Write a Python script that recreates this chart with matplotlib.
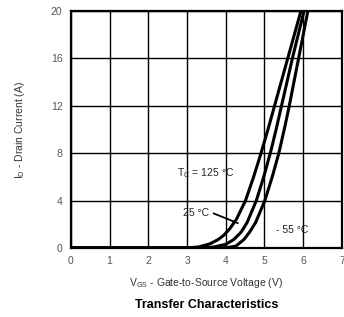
import matplotlib
matplotlib.use("Agg")
import matplotlib.pyplot as plt

plt.rcParams['font.family'] = ['Liberation Sans', 'DejaVu Sans']

# gate-source voltage (V) vs drain current (A)
vgs_125 = [0, 3.0, 3.3, 3.59, 3.8, 3.94, 4.1, 4.28, 4.51, 4.72, 4.91, 5.09, 5.26, 5.43, 5.6, 5.77, 5.94]
id_125 = [0, 0, 0.08, 0.34, 0.7, 1.04, 1.6, 2.45, 4, 6, 8, 10, 12, 14, 16, 18, 20]
vgs_25 = [0, 3.4, 3.7, 4.0, 4.21, 4.4, 4.55, 4.79, 4.98, 5.15, 5.3, 5.44, 5.58, 5.72, 5.87, 6.02]
id_25 = [0, 0, 0.08, 0.3, 0.71, 1.35, 2.14, 4, 6, 8, 10, 12, 14, 16, 18, 20]
vgs_m55 = [0, 3.8, 4.05, 4.26, 4.47, 4.62, 4.77, 5.01, 5.2, 5.37, 5.51, 5.64, 5.76, 5.88, 6.0, 6.12]
id_m55 = [0, 0, 0.03, 0.15, 0.71, 1.35, 2.14, 4, 6, 8, 10, 12, 14, 16, 18, 20]

xticks = [0, 1, 2, 3, 4, 5, 6, 7]
yticks = [0, 4, 8, 12, 16, 20]

fig = plt.figure(figsize=(3.44, 3.17), dpi=100)
ax = fig.add_axes([0.206, 0.218, 0.788, 0.747])

for v, i in [(vgs_125, id_125), (vgs_25, id_25), (vgs_m55, id_m55)]:
    ax.plot(v, i, color='black', lw=2.2, solid_capstyle='round', solid_joinstyle='round')

ax.set_xlim(0, 7)
ax.set_ylim(0, 20)
ax.set_xticks(xticks)
ax.set_yticks(yticks)
ax.grid(True, color='black', lw=1.0)
ax.tick_params(length=0, labelsize=7.5, labelcolor='#555555', pad=6)
for s in ax.spines.values():
    s.set_linewidth(1.6)

ax.text(2.75, 6.3, r'T$_\mathregular{C}$ = 125 °C', fontsize=7.5, color='#222222', va='center')
ax.text(2.9, 2.95, '25 °C', fontsize=7.5, color='#222222', va='center')
ax.annotate('', xy=(4.38, 2.0), xytext=(3.62, 3.0),
            arrowprops=dict(arrowstyle='-', lw=1.3, color='black'))
ax.text(5.3, 1.5, '- 55 °C', fontsize=7.5, color='#222222', va='center')

ax.set_ylabel(r'I$_\mathregular{D}$ - Drain Current (A)', fontsize=7.5, color='#333333', labelpad=17)
ax.set_xlabel(r'V$_\mathregular{GS}$ - Gate-to-Source Voltage (V)', fontsize=7.5, color='#333333', labelpad=7)
fig.text(0.6, 0.037, 'Transfer Characteristics', fontsize=9, fontweight='bold',
         ha='center', va='center')

fig.savefig('out.png', dpi=100)
